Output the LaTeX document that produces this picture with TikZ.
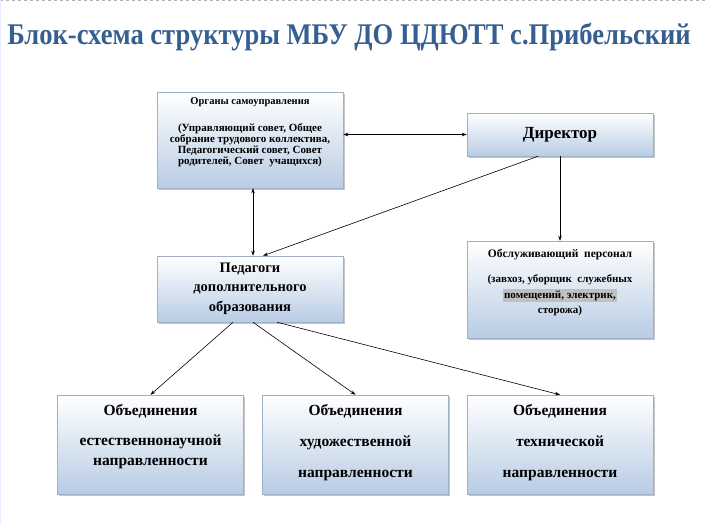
\documentclass[tikz,border=0pt]{standalone}
\usepackage{fontspec}
\setmainfont{Liberation Serif}
\usetikzlibrary{positioning,shadows,arrows.meta}
\definecolor{titleblue}{RGB}{54,95,145}
\definecolor{boxblue}{RGB}{184,204,228}
\definecolor{boxline}{RGB}{160,176,200}
\definecolor{markgray}{RGB}{192,192,192}

\begin{document}
\begin{tikzpicture}[x=1pt, y=-1pt,
    box/.style={rectangle, draw=boxline, line width=0.5pt, top color=white, bottom color=boxblue,
        drop shadow={shadow xshift=1.5pt, shadow yshift=-1.5pt, fill=black!45, opacity=0.5},
        minimum width=186pt, inner sep=0pt},
    txt/.style={align=center, inner sep=0pt, font=\bfseries},
    link/.style={-{Stealth[length=5pt,width=3.5pt]}, line width=0.6pt},
    both/.style={{Stealth[length=5pt,width=3.5pt]}-{Stealth[length=5pt,width=3.5pt]}, line width=0.6pt}]
                \useasboundingbox (0,0) rectangle (706,525);
                \draw[black!30, dashed] (0,0.5) -- (706,0.5);
                \draw[blue!8] (0.5,0) -- (0.5,525);
                \node[txt, text=titleblue] (title) at (349,37)
                    {\fontsize{30}{30}\selectfont\scalebox{0.885}[1]{Блок-схема структуры МБУ ДО ЦДЮТТ с.Прибельский}};
                % boxes
                \node[box, minimum height=96pt] (org) at (250,140) {};
                \node[box, minimum height=43pt] (dir) at (560,134.5) {};
                \node[box, minimum height=97pt] (staff) at (560,289.5) {};
                \node[box, minimum height=66pt] (ped) at (250,289) {};
                \foreach \n/\x in {A/150.5, B/355.5, C/560} {
                    \node[box, minimum height=99pt] (\n) at (\x,444.5) {};
                }
                % texts
                \node[txt, font=\bfseries\fontsize{11}{11}\selectfont] (orgT) at (250,132)
                    {{\fontsize{10.5}{11}\selectfont Органы самоуправления}\\[16pt]
                     (Управляющий совет, Общее\\собрание трудового коллектива,\\Педагогический совет, Совет\\родителей, Совет\ \ учащихся)};
                \node[txt, font=\bfseries\fontsize{17}{17}\selectfont] (dirT) at (dir) {Директор};
                \node[txt, font=\bfseries\fontsize{11}{15.5}\selectfont] (staffT) at (560,283)
                    {{\fontsize{11.5}{15.5}\selectfont Обслуживающий\ \ персонал}\\[9.5pt]
                     (завхоз, уборщик\ \ служебных\\
                     {\setlength\fboxsep{1.5pt}\colorbox{markgray}{помещений, электрик,}}\\сторожа)};
                \node[txt, font=\bfseries\fontsize{14.5}{19.5}\selectfont] (pedT) at (250,288.5)
                    {Педагоги\\дополнительного\\образования};
                \node[txt, font=\bfseries\fontsize{15.5}{20}\selectfont] (AT) at (150.5,437)
                    {Объединения\\[10pt]естественнонаучной\\направленности};
                \node[txt, font=\bfseries\fontsize{15.5}{31}\selectfont] (BT) at (355.5,443)
                    {Объединения\\художественной\\направленности};
                \node[txt, font=\bfseries\fontsize{15.5}{31}\selectfont] (CT) at (560,443)
                    {Объединения\\технической\\направленности};
                % connectors
                \draw[both] (org.east |- dir.west) -- (dir.west);
                \draw[both] ([xshift=3pt]org.south) -- ([xshift=3pt]ped.north);
                \draw[link] ([xshift=-22pt]dir.south) -- ([xshift=13pt]ped.north);
                \draw[link] (dir) -- (staff);
                \foreach \n/\s in {A/-17, B/3, C/27} {
                    \draw[link] ([xshift=\s pt]ped.south) -- (\n.north);
                }
            \end{tikzpicture}
\end{document}
